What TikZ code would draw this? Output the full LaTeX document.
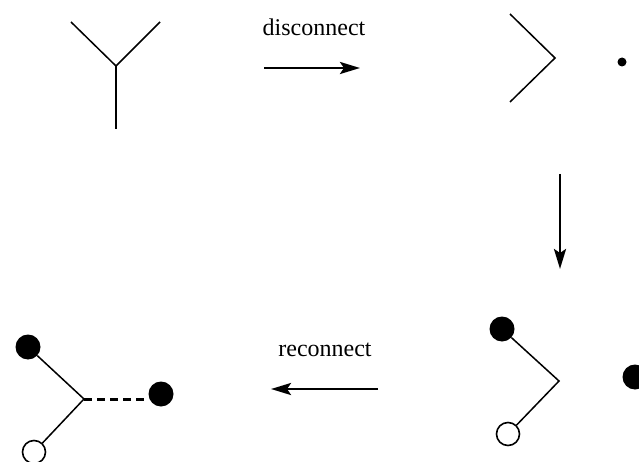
\documentclass[tikz,border=0pt]{standalone}
\usepackage{fontspec}
\setmainfont{Liberation Serif}
\usetikzlibrary{arrows.meta}
\begin{document}
\begin{tikzpicture}[x=1pt,y=-1pt,
  edge/.style={line width=1.5pt},
  step arrow/.style={line width=2.8pt,-{Stealth[length=20pt,width=12pt,inset=4pt]}},
  fdot/.style={circle,fill=black,inner sep=0pt,minimum size=25pt},
  odot/.style={circle,draw=black,fill=white,line width=1.6pt,inner sep=0pt,minimum size=23pt},
  pt/.style={circle,fill=black,inner sep=0pt,minimum size=9pt},
  lbl/.style={font=\fontsize{24}{28}\selectfont,anchor=base}]
\useasboundingbox (0,0) rectangle (639,462);

% intact vertex (top left)
\coordinate (y0) at (116,66);
\coordinate (ya) at (71,22);
\coordinate (yb) at (160,22);
\coordinate (yc) at (116,129);
\draw[edge] (ya) -- (y0) -- (yb);
\draw[edge] (y0) -- (yc);

% disconnect step
\coordinate (d1) at (264,68);
\coordinate (d2) at (360,68);
\draw[step arrow] (d1) -- (d2);
\node[lbl] (dl) at (314,36) {disconnect};

% detached vertex (top right)
\coordinate (v0) at (555,58);
\coordinate (va) at (510,14);
\coordinate (vb) at (510,102);
\draw[edge] (va) -- (v0) -- (vb);
\node[pt] (vp) at (622,62) {};

% downward step
\coordinate (s1) at (560,174);
\coordinate (s2) at (560,269);
\draw[step arrow] (s1) -- (s2);

% vertex with end markers (bottom right)
\coordinate (w0) at (559,381);
\node[fdot] (wa) at (502,329) {};
\node[odot] (wb) at (508,434) {};
\node[fdot] (wc) at (635,377) {};
\draw[edge] (wa) -- (w0) -- (wb);

% reconnect step
\coordinate (r1) at (378,389);
\coordinate (r2) at (271,389);
\draw[step arrow] (r1) -- (r2);
\node[lbl] (rl) at (325,356) {reconnect};

% reconnected vertex (bottom left)
\coordinate (u0) at (84,399);
\node[fdot] (ua) at (28,347) {};
\node[odot] (ub) at (34,452) {};
\node[fdot] (uc) at (161,394) {};
\draw[edge] (ua) -- (u0) -- (ub);
\draw[line width=3pt,dash pattern=on 8pt off 5pt] (u0) -- (uc.west |- u0);
\end{tikzpicture}
\end{document}
